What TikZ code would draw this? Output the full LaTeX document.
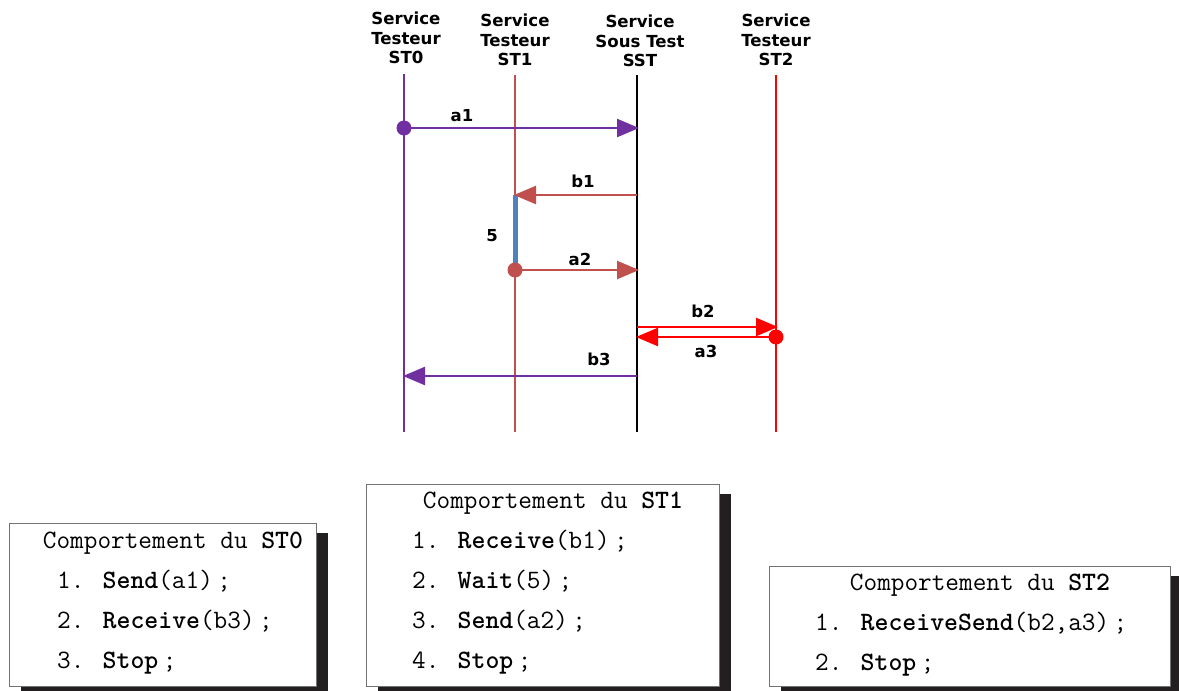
\documentclass[tikz,border=0pt]{standalone}
\usepackage{fontspec}
\newfontfamily\hdrfont{DejaVu Sans}
\usetikzlibrary{arrows.meta,shadows}
\definecolor{stpurple}{HTML}{7030A0}
\definecolor{stbrick}{HTML}{C0504D}
\definecolor{stblue}{HTML}{4F81BD}
\definecolor{shadowgray}{HTML}{231F20}

\begin{document}
\begin{tikzpicture}[
  x=1pt,y=-1pt,
  >={Triangle[length=22pt,width=18pt]},
  hdr/.style={font=\hdrfont\bfseries\fontsize{16.6}{19.5}\selectfont,align=center,
              anchor=south,inner sep=0pt},
  lbl/.style={font=\hdrfont\bfseries\fontsize{16.5}{19}\selectfont,inner sep=0pt},
  life/.style={line width=2pt},
  msg/.style={->,line width=2.5pt},
  dot/.style={circle,inner sep=0pt,minimum size=15pt},
  behbox/.style={draw=black!55,line width=1pt,fill=white,anchor=north west,
                 inner sep=0pt,
                 drop shadow={shadow xshift=11pt,shadow yshift=-9pt,
                              fill=shadowgray,opacity=1}},
  beh/.style={font=\ttfamily\fontsize{26.5}{41}\selectfont,inner sep=0pt},
]
\useasboundingbox (0,0) rectangle (1179,691);

% ---- services (headers and life lines) ---------------------------------
\node[hdr] (hST0) at (406,64) {Service\\Testeur\\ST0};
\node[hdr] (hST1) at (515,66) {Service\\Testeur\\ST1};
\node[hdr] (hSST) at (640,67) {Service\\Sous Test\\SST};
\node[hdr] (hST2) at (776,66) {Service\\Testeur\\ST2};

\coordinate (t0) at (404,74);  \coordinate (e0) at (404,432);
\coordinate (t1) at (515,75);  \coordinate (e1) at (515,432);
\coordinate (tS) at (637,75);  \coordinate (eS) at (637,432);
\coordinate (t2) at (776,75);  \coordinate (e2) at (776,432);
\draw[life,stpurple] (t0) -- (e0);
\draw[life,stbrick] (t1) -- (e1);
\draw[life,line width=2.5pt,black] (tS) -- (eS);
\draw[life,line width=2.5pt,red] (t2) -- (e2);

% ---- exchanged messages -------------------------------------------------
\coordinate (a1e) at (639,128);
\coordinate (b1s) at (637,195);  \coordinate (b1e) at (514,195);
\coordinate (a2e) at (639,270);
\coordinate (b2s) at (637,327);  \coordinate (b2e) at (778,327);
\coordinate (a3e) at (636,337);
\coordinate (b3s) at (637,376);  \coordinate (b3e) at (403,376);

\draw[line width=5pt,stblue] (515,195) -- (515,270) coordinate (w5);
\node[dot,fill=stpurple] (d1) at (404,128) {};
\node[dot,fill=stbrick] (d2) at (w5) {};
\node[dot,fill=red] (d3) at (776,337) {};

\draw[msg,stpurple] (d1.center) -- (a1e);
\draw[msg,stbrick] (b1s) -- (b1e);
\draw[msg,stbrick] (d2.center) -- (a2e);
\draw[msg,red] (b2s) -- (b2e);
\draw[msg,red] (d3.center) -- (a3e);
\draw[msg,stpurple] (b3s) -- (b3e);

\node[lbl] (la1) at (462,116) {a1};
\node[lbl] (lb1) at (583,181) {b1};
\node[lbl] (l5)  at (492,236) {5};
\node[lbl] (la2) at (580,259) {a2};
\node[lbl] (lb2) at (703,311) {b2};
\node[lbl] (la3) at (706,351) {a3};
\node[lbl] (lb3) at (599,359) {b3};

% ---- behaviour of each tester -------------------------------------------
\node[behbox,minimum width=307pt,minimum height=163pt] (bST0) at (9,523) {};
\node[beh,anchor=base] (tST0) at (173,548) {Comportement du \textbf{ST0}};
\node[beh,anchor=base west] (s01) at (57,588) {1. \textbf{Send}(a1)\,;};
\node[beh,anchor=base west] (s02) at (57,628) {2. \textbf{Receive}(b3)\,;};
\node[beh,anchor=base west] (s03) at (57,668) {3. \textbf{Stop}\,;};

\node[behbox,minimum width=353pt,minimum height=202pt] (bST1) at (366,484) {};
\node[beh,anchor=base] (tST1) at (553,508) {Comportement du \textbf{ST1}};
\node[beh,anchor=base west] (s11) at (412,548) {1. \textbf{Receive}(b1)\,;};
\node[beh,anchor=base west] (s12) at (412,588) {2. \textbf{Wait}(5)\,;};
\node[beh,anchor=base west] (s13) at (412,628) {3. \textbf{Send}(a2)\,;};
\node[beh,anchor=base west] (s14) at (412,668) {4. \textbf{Stop}\,;};

\node[behbox,minimum width=401pt,minimum height=120pt] (bST2) at (769,566) {};
\node[beh,anchor=base] (tST2) at (980,590) {Comportement du \textbf{ST2}};
\node[beh,anchor=base west] (s21) at (815,630) {1. \textbf{ReceiveSend}(b2,a3)\,;};
\node[beh,anchor=base west] (s22) at (815,670) {2. \textbf{Stop}\,;};
\end{tikzpicture}
\end{document}
